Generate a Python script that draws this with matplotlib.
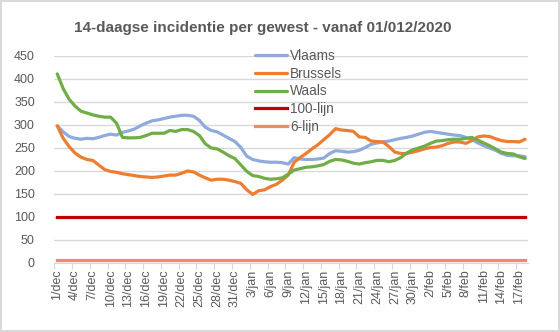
import matplotlib.pyplot as plt
import numpy as np

# categorie-as: 1/dec t/m 18/feb
dagen = (['%d/dec' % d for d in range(1, 32)] +
         ['%d/jan' % d for d in range(1, 32)] +
         ['%d/feb' % d for d in range(1, 19)])

vlaams = [297, 284, 274, 270, 268, 270, 269, 272, 276, 279,
          277, 283, 286, 290, 297, 303, 308, 310, 313, 316,
          318, 320, 320, 318, 309, 294, 287, 284, 277, 270,
          263, 250, 231, 224, 221, 219, 218, 218, 217, 214,
          228, 225, 224, 224, 225, 227, 237, 243, 242, 240,
          241, 244, 250, 257, 260, 262, 264, 267, 270, 272,
          275, 279, 283, 285, 283, 281, 279, 277, 276, 272,
          267, 260, 254, 249, 244, 237, 233, 232, 232, 230]

brussels = [297, 270, 252, 238, 229, 224, 222, 212, 202, 198,
            196, 193, 191, 189, 187, 186, 185, 186, 188, 190,
            190, 194, 199, 197, 190, 184, 179, 181, 181, 179,
            176, 172, 158, 148, 156, 158, 165, 170, 179, 190,
            218, 228, 237, 247, 256, 267, 278, 291, 288, 287,
            285, 273, 272, 264, 263, 262, 252, 240, 237, 237,
            240, 243, 247, 250, 251, 254, 259, 262, 262, 259,
            265, 273, 275, 274, 269, 265, 263, 263, 262, 268]

waals = [410, 378, 355, 340, 329, 325, 321, 318, 316, 316,
         303, 272, 271, 271, 272, 276, 281, 281, 281, 287,
         285, 289, 289, 285, 276, 258, 249, 247, 240, 232,
         226, 212, 198, 189, 187, 183, 181, 182, 184, 192,
         201, 204, 207, 208, 210, 213, 220, 224, 223, 220,
         216, 214, 217, 219, 222, 222, 219, 222, 228, 238,
         245, 249, 253, 259, 264, 265, 267, 268, 268, 270,
         272, 266, 260, 254, 247, 240, 237, 236, 230, 226]

lijn_100 = [100] * len(dagen)
lijn_6 = [6] * len(dagen)

plt.rcParams['font.family'] = ['Liberation Sans', 'DejaVu Sans']
grijs = '#595959'

fig = plt.figure(figsize=(5.6, 3.32), dpi=100, edgecolor='#D9D9D9', linewidth=1.5)
ax = fig.add_axes([0.097, 0.2093, 0.846, 0.6235])

x = np.arange(len(dagen))
ax.plot(x, vlaams, color='#8FAADC', lw=2.3, label='Vlaams', solid_capstyle='round')
ax.plot(x, brussels, color='#ED7D31', lw=2.3, label='Brussels', solid_capstyle='round')
ax.plot(x, waals, color='#70AD47', lw=2.3, label='Waals', solid_capstyle='round')
ax.plot(x, lijn_100, color='#C00000', lw=2.3, label='100-lijn')
ax.plot(x, lijn_6, color='#F0886A', lw=2.3, label='6-lijn')

ax.set_ylim(0, 450)
ax.set_yticks(range(0, 451, 50))
ax.set_xlim(-0.5, len(dagen) - 0.5)
ax.grid(axis='y', color='#D9D9D9', lw=1)
ax.set_axisbelow(True)
for s in ['top', 'right', 'left']:
    ax.spines[s].set_visible(False)
ax.spines['bottom'].set_color('#D9D9D9')
ax.spines['bottom'].set_zorder(0)

ax.set_xticks(np.arange(-0.5, len(dagen), 3))
ax.set_xticklabels([])
ax.tick_params(axis='x', which='major', length=4, color='#D9D9D9')
ax.set_xticks(x[::3], minor=True)
ax.set_xticklabels(dagen[::3], minor=True, rotation=90)
ax.tick_params(axis='x', which='minor', length=0, pad=5, labelsize=9, labelcolor=grijs)
ax.tick_params(axis='y', length=0, pad=14, labelsize=9, labelcolor=grijs)

fig.suptitle('14-daagse incidentie per gewest - vanaf 01/012/2020', x=0.47, y=0.938,
             fontsize=11, fontweight='bold', color=grijs)

leg = ax.legend(loc='upper left', bbox_to_anchor=(0.455, 0.853), bbox_transform=fig.transFigure,
                frameon=False, fontsize=9.8, handlelength=2.4, handletextpad=0.2,
                labelspacing=0.28, borderaxespad=0, borderpad=0)
for t in leg.get_texts():
    t.set_color(grijs)

fig.savefig('out.png', dpi=100, edgecolor=fig.get_edgecolor())
